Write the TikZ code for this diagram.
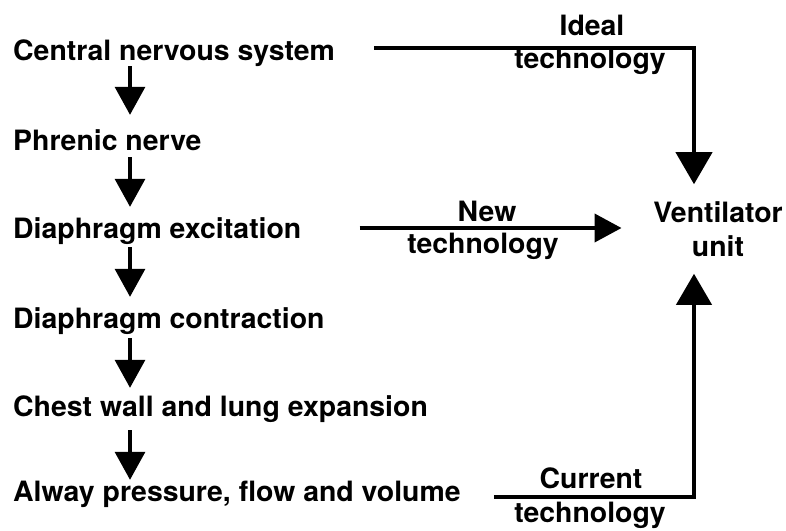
\documentclass[tikz,border=0pt]{standalone}
\usepackage{fontspec}
\setmainfont[FakeStretch=1.015]{TeX Gyre Heros}
\usetikzlibrary{arrows.meta}
\begin{document}
\begin{tikzpicture}[x=1pt,y=-1pt,
  lbl/.style={anchor=base west,inner sep=0pt,text height=20pt,text depth=6pt,font=\bfseries\fontsize{28}{32}\selectfont},
  tag/.style={anchor=base,inner sep=0pt,font=\bfseries\fontsize{28}{32}\selectfont},
  smarr/.style={line width=3.3pt,-{Triangle[length=28pt,width=30pt]}},
  bigarr/.style={line width=4pt,line join=miter}]
\useasboundingbox (0,0) rectangle (786,530);
\fill[white] (0,0) rectangle (786,530);
\node[lbl] (cns) at (13,60) {Central nervous system};
\node[lbl] (phr) at (13,150) {Phrenic nerve};
\node[lbl] (de) at (13,238) {Diaphragm excitation};
\node[lbl] (dc) at (13,328) {Diaphragm contraction};
\node[lbl] (cw) at (13,416) {Chest wall and lung expansion};
\node[lbl] (al) at (13,501) {Alway pressure, flow and volume};
\node[inner sep=0pt,align=center,font=\bfseries\fontsize{28}{34}\selectfont] (vent) at (718,229) {Ventilator\\unit};
\coordinate (col) at (130,0);
\draw[smarr,shorten >=15pt] (cns.south -| col) -- (phr.north -| col);
\draw[smarr,shorten <=1pt,shorten >=11pt] (phr.south -| col) -- (de.north -| col);
\draw[smarr,shorten <=3pt,shorten >=11pt] (de.south -| col) -- (dc.north -| col);
\draw[smarr,shorten <=4pt,shorten >=8pt] (dc.south -| col) -- (cw.north -| col);
\draw[smarr,shorten <=8pt,shorten >=1pt] (cw.south -| col) -- (al.north -| col);
% ideal
\coordinate (i0) at ([xshift=39pt,yshift=5.5pt]cns.east);
\coordinate (i1) at ([xshift=-24pt,yshift=17pt]vent.north);
\draw[bigarr,-{Triangle[length=32pt,width=36pt]}] (i0) -| (i1);
\node[tag] (ideal) at (592,35) {Ideal};
\node[tag] (itech) at (590,68) {technology};
% new
\coordinate (n0) at ([xshift=58pt,yshift=3pt]de.east);
\coordinate (n1) at ([xshift=-31.5pt]vent.west);
\draw[bigarr,-{Triangle[length=27pt,width=28pt]}] (n0) -- (n0 -| n1);
\node[tag] (new) at (487,221) {New};
\node[tag] (ntech) at (483,253) {technology};
% current
\coordinate (c0) at ([xshift=33pt,yshift=-3pt]al.east);
\coordinate (c1) at ([xshift=-24pt,yshift=-17pt]vent.south);
\draw[bigarr,-{Triangle[length=31pt,width=35pt]}] (c0) -| (c1);
\node[tag] (cur) at (591,488) {Current};
\node[tag] (ctech) at (590,522) {technology};
\end{tikzpicture}
\end{document}
